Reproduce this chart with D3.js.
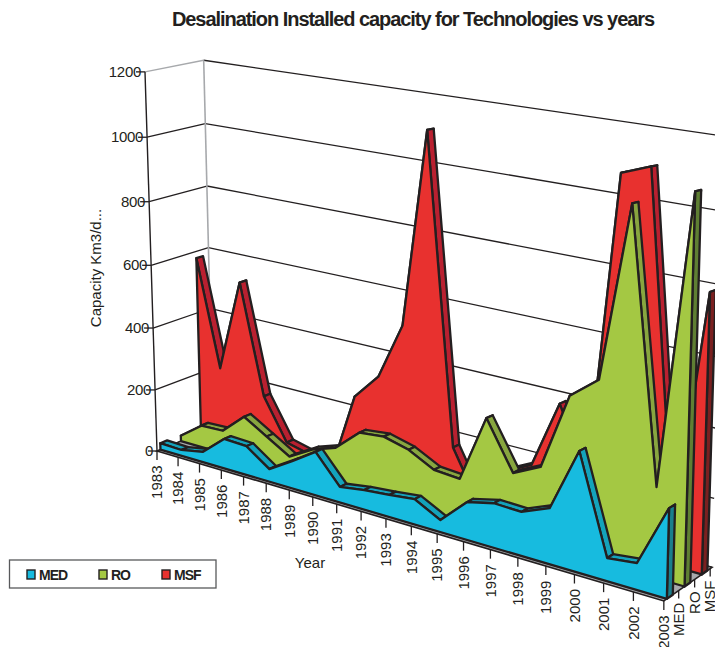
<!DOCTYPE html>
<html>
<head>
<meta charset="utf-8">
<script src="https://cdnjs.cloudflare.com/ajax/libs/d3/7.8.5/d3.min.js"></script>
<style>
body { margin: 0; background: #fff; }
text { font-family: "Liberation Sans", Arial, sans-serif; fill: #231f20; }
</style>
</head>
<body>
<svg id="chart" width="715" height="647"></svg>
<script>
var years = ["1983","1984","1985","1986","1987","1988","1989","1990","1991","1992","1993","1994","1995","1996","1997","1998","1999","2000","2001","2002","2003"];
var seriesNames = ["MED","RO","MSF"];
var valueTicks = [0,200,400,600,800,1000,1200];

var medValues = [21,19,33,95,92,40,86,135,48,60,67,76,36,111,130,127,160,342,65,75,249];
var roValues = [18,71,74,139,95,51,94,120,187,195,175,135,129,330,189,228,452,516,1012,256,1070];
var msfValues = [578,234,530,179,48,30,10,254,335,510,1105,175,22,145,185,386,192,1070,1100,100,790];

var faceColors = ["#17bbdf","#a4c843","#e8312f"];
var ribbonColors = ["#14a3bb","#88a63f","#b92030"];
var capColors = ["#1a7f8c","#5f7f33","#7a2020"];

var svg = d3.select("#chart");

// the scales work in box units, project() turns them into pixels
var yearScale = d3.scalePoint().domain(years).range([0,20]);
var valueScale = d3.scaleLinear().domain([0,1200]).range([0,1]);
var seriesScale = d3.scalePoint().domain(seriesNames).range([0.06,0.78]);
var depthTickScale = d3.scalePoint().domain(seriesNames).range([0.3,0.96]);
var thickness = 0.12;

var project = function(i, v, d) {
    var w = 1 - 0.0088*i - 0.04*v + 0.0327*d;
    return [(157 + 19.5*i - 17.8*v + 63*d)/w, (451 + 2.21*i - 382*v - 9.2*d)/w + 9*v*d*i/20];
}

var line = d3.line();
var closedPath = function(points) { return line(points) + "Z"; }

// walls
valueTicks.forEach(function(t) {
    var v = valueScale(t);
    var leftEnd = project(0,v,0), corner = project(0,v,1), rightEnd = project(20,v,1);
    svg.append("line").attr("x1",leftEnd[0]).attr("y1",leftEnd[1]).attr("x2",corner[0]).attr("y2",corner[1])
        .attr("stroke", t == 1200 ? "#a7a9ac" : "#231f20").attr("stroke-width",1.3);
    svg.append("line").attr("x1",corner[0]).attr("y1",corner[1]).attr("x2",rightEnd[0]).attr("y2",rightEnd[1])
        .attr("stroke","#231f20").attr("stroke-width",1.3);
    svg.append("line").attr("x1",leftEnd[0]-9).attr("y1",leftEnd[1]).attr("x2",leftEnd[0]).attr("y2",leftEnd[1])
        .attr("stroke","#231f20").attr("stroke-width",1.3);
    svg.append("text").attr("x",leftEnd[0]-4).attr("y",leftEnd[1]+5).attr("text-anchor","end")
        .attr("font-size",15).attr("letter-spacing",-0.3).text(t);
});
var backBottom = project(0,0,1), backTop = project(0,1,1);
svg.append("line").attr("x1",backBottom[0]).attr("y1",backBottom[1]).attr("x2",backTop[0]).attr("y2",backTop[1])
    .attr("stroke","#a7a9ac").attr("stroke-width",1.6);
var axisBottom = project(0,0,0), axisTop = project(0,1,0);
svg.append("line").attr("x1",axisBottom[0]).attr("y1",axisBottom[1]).attr("x2",axisTop[0]).attr("y2",axisTop[1])
    .attr("stroke","#231f20").attr("stroke-width",1.4);

// floor
svg.append("path").attr("d",closedPath([project(0,0,0),project(20,0,0),project(20,0,1),project(0,0,1)]))
    .attr("fill","#a7a9ac").attr("stroke","#231f20").attr("stroke-width",1.6);

// series, back to front
var drawSeries = function(k, values) {
    var name = seriesNames[k];
    var d1 = seriesScale(name), d2 = d1 + thickness;
    var g = svg.append("g").attr("stroke","#231f20").attr("stroke-width",2.3).attr("stroke-linejoin","round");
    for (var n = 0; n < years.length-1; n++) {
        var i1 = yearScale(years[n]), i2 = yearScale(years[n+1]);
        var v1 = valueScale(values[n]), v2 = valueScale(values[n+1]);
        g.append("path").attr("d",closedPath([project(i1,v1,d1),project(i2,v2,d1),project(i2,v2,d2),project(i1,v1,d2)]))
            .attr("fill",ribbonColors[k]);
    }
    var last = yearScale(years[years.length-1]), lastV = valueScale(values[values.length-1]);
    g.append("path").attr("d",closedPath([project(last,0,d1),project(last,lastV,d1),project(last,lastV,d2),project(last,0,d2)]))
        .attr("fill",capColors[k]);
    var face = years.map(function(y, n) { return project(yearScale(y),valueScale(values[n]),d1); });
    face.push(project(last,0,d1));
    face.push(project(0,0,d1));
    g.append("path").attr("d",closedPath(face)).attr("fill",faceColors[k]);
}
drawSeries(2,msfValues);
drawSeries(1,roValues);
drawSeries(0,medValues);

// year axis
years.forEach(function(y) {
    var p = project(yearScale(y),0,0);
    svg.append("line").attr("x1",p[0]).attr("y1",p[1]).attr("x2",p[0]).attr("y2",p[1]+9)
        .attr("stroke","#231f20").attr("stroke-width",1.3);
    svg.append("text").attr("transform","translate("+p[0]+","+(p[1]+14.5)+") rotate(-90)")
        .attr("text-anchor","end").attr("dy","0.35em").attr("font-size",15).text(y);
});

// series axis
seriesNames.forEach(function(s) {
    var p = project(20,0,depthTickScale(s));
    svg.append("line").attr("x1",p[0]).attr("y1",p[1]).attr("x2",p[0]).attr("y2",p[1]+8)
        .attr("stroke","#231f20").attr("stroke-width",1.3);
    svg.append("text").attr("transform","translate("+p[0]+","+(p[1]+12)+") rotate(-90)")
        .attr("text-anchor","end").attr("dy","0.35em").attr("font-size",15).text(s);
});

// titles
svg.append("text").attr("x",413).attr("y",26).attr("text-anchor","middle").attr("font-size",20)
    .attr("font-weight","bold").attr("letter-spacing",-1.05).text("Desalination Installed capacity for Technologies vs years");
svg.append("text").attr("transform","translate(101,268) rotate(-90)").attr("text-anchor","middle")
    .attr("font-size",15).text("Capacity Km3/d...");
svg.append("text").attr("x",310).attr("y",568).attr("text-anchor","middle").attr("font-size",15).text("Year");

// legend
var legendX = [27,99,162];
svg.append("rect").attr("x",9.5).attr("y",560).attr("width",206.5).attr("height",28)
    .attr("fill","#fff").attr("stroke","#58595b").attr("stroke-width",1.3);
seriesNames.forEach(function(s, k) {
    svg.append("rect").attr("x",legendX[k]).attr("y",570).attr("width",8).attr("height",9)
        .attr("fill",faceColors[k]).attr("stroke","#231f20").attr("stroke-width",1.4);
    svg.append("text").attr("x",legendX[k]+12).attr("y",580).attr("font-size",14).attr("font-weight","bold")
        .attr("letter-spacing",-1).text(s);
});
</script>
</body>
</html>
